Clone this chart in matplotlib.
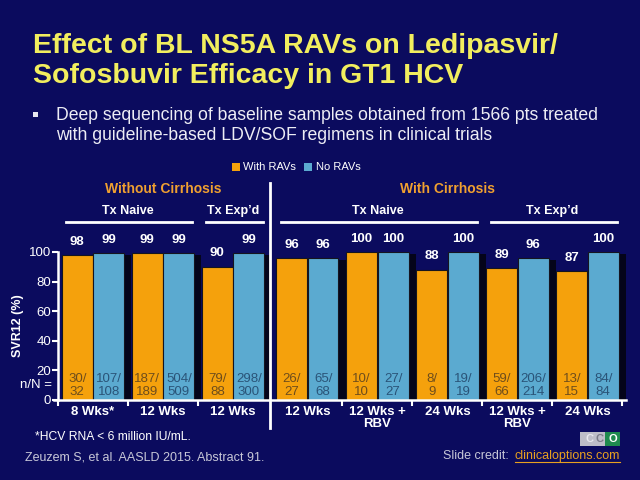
import matplotlib
matplotlib.use("Agg")
import matplotlib.pyplot as plt
from matplotlib.patches import Rectangle
from matplotlib.lines import Line2D

plt.rcParams['font.family'] = ['Liberation Sans', 'DejaVu Sans']

# ---------------- data ----------------
categories = ["8 Wks*", "12 Wks", "12 Wks", "12 Wks", "12 Wks +\nRBV", "24 Wks", "12 Wks +\nRBV", "24 Wks"]
with_ravs = [98, 99, 90, 96, 100, 88, 89, 87]
no_ravs = [99, 99, 99, 96, 100, 100, 96, 100]
with_n = ["30/\n32", "187/\n189", "79/\n88", "26/\n27", "10/\n10", "8/\n9", "59/\n66", "13/\n15"]
no_n = ["107/\n108", "504/\n509", "298/\n300", "65/\n68", "27/\n27", "19/\n19", "206/\n214", "84/\n84"]
cirrhosis = [False, False, False, True, True, True, True, True]
tx_groups = [("Tx Naive", 0, 1), ("Tx Exp\u2019d", 2, 2), ("Tx Naive", 3, 5), ("Tx Exp\u2019d", 6, 7)]
yticks = [0, 20, 40, 60, 80, 100]

BG = '#0b0b5e'
ORANGE = '#F5A10C'
BLUE = '#5BAAD0'
YELLOW = '#F2EE5E'
WHITE = 'white'

fig = plt.figure(figsize=(6.4, 4.8), dpi=100, facecolor=BG)
W, H = 640, 480

def fx(px):
    return px / W

def fy(py):
    return 1 - py / H

ax = fig.add_axes([fx(58), fy(400), (626 - 58) / W, 148 / H])
ax.set_facecolor(BG)

gap = 0.06
centers = [i + 0.5 + (gap if c else 0) for i, c in enumerate(cirrhosis)]
bw = 0.44
off = 0.225

for i, c in enumerate(centers):
    for x, v in ((c - off, with_ravs[i]), (c + off, no_ravs[i])):
        ax.add_patch(Rectangle((x - bw / 2 + 0.05, 0), bw + 0.05, v - 1.2,
                               facecolor='#04041a', edgecolor='none', zorder=1))
ax.bar([c - off for c in centers], with_ravs, width=bw, color=ORANGE,
       edgecolor='#15151f', linewidth=0.8, zorder=2)
ax.bar([c + off for c in centers], no_ravs, width=bw, color=BLUE,
       edgecolor='#15151f', linewidth=0.8, zorder=2)

for i, c in enumerate(centers):
    ax.text(c - off, with_ravs[i] + 9, str(with_ravs[i]), ha='center', va='center',
            color=WHITE, fontsize=9.5, fontweight='bold', clip_on=False)
    ax.text(c + off, no_ravs[i] + 9, str(no_ravs[i]), ha='center', va='center',
            color=WHITE, fontsize=9.5, fontweight='bold', clip_on=False)
    ax.text(c - off, 10, with_n[i], ha='center', va='center', color='#6e4d1c',
            fontsize=9.5, linespacing=1.1, zorder=3)
    ax.text(c + off, 10, no_n[i], ha='center', va='center', color='#2a5478',
            fontsize=9.5, linespacing=1.1, zorder=3)

ax.set_xlim(0, 8.11)
ax.set_ylim(0, 100)

# axes styling
for s in ('top', 'right'):
    ax.spines[s].set_visible(False)
for s in ('left', 'bottom'):
    ax.spines[s].set_color(WHITE)
    ax.spines[s].set_linewidth(1.8)
ax.spines['bottom'].set_bounds(-0.05, 8.11)
ax.set_yticks(yticks)
ax.tick_params(axis='y', colors=WHITE, labelsize=9.5, length=4, width=1.5, pad=1)
ax.set_xticks(centers)
ax.set_xticklabels(categories, fontsize=9.5, fontweight='bold', color=WHITE, linespacing=1.05)
ax.tick_params(axis='x', length=0, pad=4)
bounds = [0] + [(centers[i] + centers[i + 1]) / 2 for i in range(len(centers) - 1)] + [centers[-1] + 0.5]
sep_x = None
for i in range(len(centers) - 1):
    if cirrhosis[i] != cirrhosis[i + 1]:
        sep_x = (centers[i] + centers[i + 1]) / 2
minor = [b for b in bounds if b != sep_x]
ax.set_xticks(minor, minor=True)
ax.tick_params(axis='x', which='minor', length=4, width=1.5, color=WHITE)

ax.text(-0.08, 10, "n/N =", ha='right', va='center', color=WHITE, fontsize=9.5, clip_on=False)
ax.add_line(Line2D([sep_x, sep_x], [-19, 146.5], color=WHITE, linewidth=2, clip_on=False))

# headers
ax.text(sum(centers[:3]) / 3, 142.6, "Without Cirrhosis", ha='center', va='center',
        color='#F0A030', fontsize=10, fontweight='bold', clip_on=False)
ax.text((centers[3] + centers[7]) / 2, 142.6, "With Cirrhosis", ha='center', va='center',
        color='#F0A030', fontsize=10, fontweight='bold', clip_on=False)
for label, a, b in tx_groups:
    ax.text((centers[a] + centers[b]) / 2, 127.7, label, ha='center', va='center',
            color=WHITE, fontsize=9, fontweight='bold', clip_on=False)
    ax.add_line(Line2D([centers[a] - 0.38, centers[b] + 0.42], [120.3, 120.3],
                       color=WHITE, linewidth=2, clip_on=False))

fig.text(fx(18), fy(326), "SVR12 (%)", rotation=90, ha='center', va='center',
         color=WHITE, fontsize=9, fontweight='bold')

# legend
fig.patches.append(Rectangle((fx(232), fy(171)), 8 / W, 8 / H, facecolor=ORANGE,
                             transform=fig.transFigure, figure=fig))
fig.text(fx(243), fy(167), "With RAVs", ha='left', va='center', color=WHITE, fontsize=8)
fig.patches.append(Rectangle((fx(304), fy(171)), 8 / W, 8 / H, facecolor=BLUE,
                             transform=fig.transFigure, figure=fig))
fig.text(fx(316), fy(167), "No RAVs", ha='left', va='center', color=WHITE, fontsize=8)

# title and bullet
fig.text(fx(33), fy(46), "Effect of BL NS5A RAVs on Ledipasvir/", ha='left', va='center',
         color=YELLOW, fontsize=20.5, fontweight='bold')
fig.text(fx(33), fy(76), "Sofosbuvir Efficacy in GT1 HCV", ha='left', va='center',
         color=YELLOW, fontsize=20.5, fontweight='bold')
fig.patches.append(Rectangle((fx(33), fy(117)), 5 / W, 5 / H, facecolor='#E8E8F0',
                             transform=fig.transFigure, figure=fig))
fig.text(fx(56), fy(115), "Deep sequencing of baseline samples obtained from 1566 pts treated",
         ha='left', va='center', color='#EDEDF5', fontsize=12.7)
fig.text(fx(56), fy(135), "with guideline-based LDV/SOF regimens in clinical trials",
         ha='left', va='center', color='#EDEDF5', fontsize=12.7)

# footer
fig.text(fx(35), fy(437), "*HCV RNA < 6 million IU/mL.", ha='left', va='center',
         color=WHITE, fontsize=8.7)
fig.text(fx(25), fy(457), "Zeuzem S, et al. AASLD 2015. Abstract 91.", ha='left', va='center',
         color='#C8C8D8', fontsize=9)
t_link = fig.text(fx(620), fy(456), "clinicaloptions.com", ha='right', va='center',
                  color='#E8A020', fontsize=9)
fig.canvas.draw()
bb = t_link.get_window_extent()
fig.text(bb.x0 / W - 0.003, fy(456), "Slide credit: ", ha='right', va='center',
         color='#C8C8D8', fontsize=9)
fig.add_artist(Line2D([bb.x0 / W, bb.x1 / W], [bb.y0 / H + 0.001, bb.y0 / H + 0.001],
                      color='#E8A020', linewidth=0.8, transform=fig.transFigure))

# CCO logo
fig.patches.append(Rectangle((fx(580), fy(446)), 25 / W, 14 / H, facecolor='#BDBDC8',
                             transform=fig.transFigure, figure=fig))
fig.patches.append(Rectangle((fx(605), fy(446)), 15 / W, 14 / H, facecolor='#1E8A4E',
                             transform=fig.transFigure, figure=fig))
fig.text(fx(590), fy(439), "C", ha='center', va='center', color='#E8E8EE', fontsize=8, fontweight='bold')
fig.text(fx(600), fy(439), "C", ha='center', va='center', color='#7A7A88', fontsize=8, fontweight='bold')
fig.text(fx(612.5), fy(439), "O", ha='center', va='center', color='white', fontsize=8, fontweight='bold')

fig.savefig("out.png", dpi=100, facecolor=BG)
